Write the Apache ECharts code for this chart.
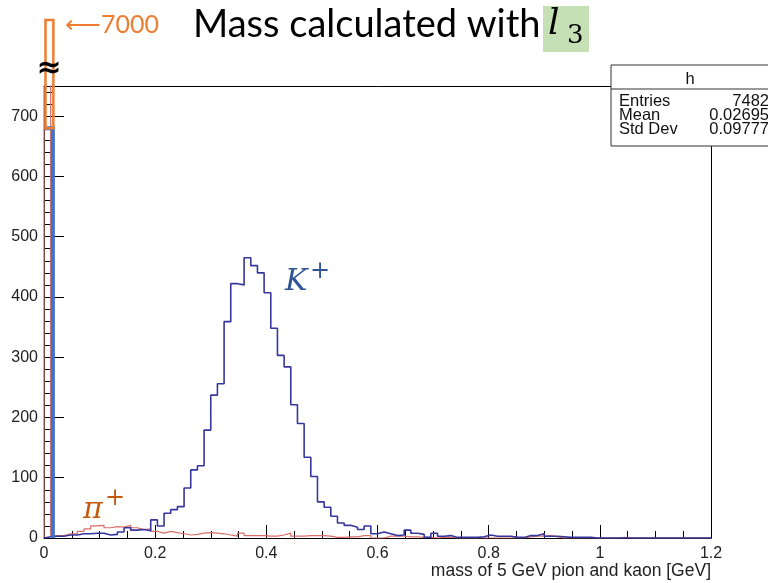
<!DOCTYPE html>
<html><head><meta charset="utf-8">
<script src="https://cdn.jsdelivr.net/npm/echarts@6/dist/echarts.min.js"></script>
<style>html,body{margin:0;padding:0;background:#fff}#c{width:768px;height:583px}</style>
</head><body><div id="c"></div>
<script>
// ---- data ----
const binWidth = 0.012;
const xMin = 0, xMax = 1.2, xInterval = 0.2;
const yMin = 0, yMax = 750, yInterval = 100;
const kaonCounts = [
  2, 3, 3, 5, 5, 7, 7, 8, 8, 5,
  6, 10, 17, 13, 14, 12, 30, 20, 41, 47,
  52, 83, 113, 120, 179, 237, 256, 359, 422, 420,
  465, 452, 440, 407, 348, 303, 284, 221, 190, 134,
  102, 60, 51, 36, 25, 21, 18, 14, 20, 7,
  10, 7, 4, 5, 13, 8, 6, 1, 8, 3,
  4, 1, 1, 1, 1, 2, 5, 3, 3, 3,
  1, 1, 4, 4, 7, 3, 3, 2, 1, 1,
  1, 1, 0, 0, 0, 0, 0, 0, 0, 0,
  0, 0, 0, 0, 0, 0, 0, 0, 0, 0
];
const pionCounts = [
  7000, 4, 4, 7, 7, 11, 15, 20, 21, 17,
  19, 18, 21, 17, 14, 15, 11, 8, 11, 9,
  7, 5, 6, 8, 9, 8, 7, 5, 3, 8,
  4, 4, 4, 3, 3, 5, 8, 3, 3, 4,
  4, 4, 3, 1, 1, 2, 2, 4, 4, 0,
  0, 3, 3, 3, 2, 2, 1, 1, 0, 1,
  1, 0, 0, 0, 0, 0, 0, 0, 0, 0,
  0, 0, 2, 3, 3, 4, 2, 0, 0, 0,
  0, 0, 0, 0, 0, 0, 1, 0, 0, 0,
  0, 0, 0, 0, 0, 0, 0, 0, 0, 0
];
const highlightBin = [[0, 680]]; // bin 0 drawn up to 680, then broken to 7000
const statsTitle = 'h';
const statsRows = [['Entries', '7482'], ['Mean', '0.02695'], ['Std Dev', '0.09777']];
const titleText = 'Mass calculated with';
const xName = 'mass of 5 GeV pion and kaon [GeV]';

function histPoints(counts) {
  const pts = [[0, 0]];
  counts.forEach((c, i) => pts.push([i * binWidth, c]));
  pts.push([counts.length * binWidth, counts[counts.length - 1]]);
  return pts;
}

const chart = echarts.init(document.getElementById('c'));
const FONT = 'Liberation Sans';
const statsGraphics = [];
const bx = 611, by = 65;
statsGraphics.push({type:'rect', z:100, shape:{x:bx, y:by, width:170, height:81}, style:{fill:'#fff', stroke:'#333', lineWidth:1}});
statsGraphics.push({type:'line', z:101, shape:{x1:bx, y1:89, x2:bx+170, y2:89}, style:{stroke:'#333', lineWidth:1}});
statsGraphics.push({type:'text', z:102, x:690, y:79, style:{text:statsTitle, font:'16.5px ' + FONT, fill:'#111', align:'center', verticalAlign:'middle'}});
statsRows.forEach((r, i) => {
  const yy = 101.5 + i * 13.8;
  statsGraphics.push({type:'text', z:102, x:619, y:yy, style:{text:r[0], font:'16.5px ' + FONT, fill:'#111', align:'left', verticalAlign:'middle'}});
  statsGraphics.push({type:'text', z:102, x:769, y:yy, style:{text:r[1], font:'16.5px ' + FONT, fill:'#111', align:'right', verticalAlign:'middle'}});
});

const option = {
  animation: false,
  backgroundColor: '#fff',
  grid: {left: 44, right: 57, top: 86, bottom: 45, containLabel: false},
  xAxis: [{
    type: 'value', min: xMin, max: xMax, interval: xInterval,
    axisLine: {show: true, lineStyle: {color: '#000', width: 1}},
    axisTick: {show: true, inside: true, length: 13, lineStyle: {color: '#000'}},
    minorTick: {show: true, splitNumber: 4, length: 7, lineStyle: {color: '#000'}},
    splitLine: {show: false},
    axisLabel: {color: '#222', fontFamily: FONT, fontSize: 16, margin: 8,
      formatter: v => String(+v.toFixed(2))}
  }, {
    type: 'value', position: 'top', min: xMin, max: xMax,
    axisLine: {show: true, onZero: false, lineStyle: {color: '#000', width: 1}},
    axisTick: {show: false}, axisLabel: {show: false}, splitLine: {show: false}
  }],
  yAxis: [{
    type: 'value', min: yMin, max: yMax, interval: yInterval,
    axisLine: {show: true, lineStyle: {color: '#000', width: 1}},
    axisTick: {show: true, inside: true, length: 20, lineStyle: {color: '#000'}},
    minorTick: {show: true, splitNumber: 5, length: 10, lineStyle: {color: '#000'}},
    splitLine: {show: false},
    axisLabel: {color: '#222', fontFamily: FONT, fontSize: 16, margin: 6,
      formatter: v => (v > 700 ? '' : String(v))}
  }, {
    type: 'value', position: 'right', min: yMin, max: yMax,
    axisLine: {show: true, onZero: false, lineStyle: {color: '#000', width: 1}},
    axisTick: {show: false}, axisLabel: {show: false}, splitLine: {show: false}
  }],
  series: [{
    type: 'line', name: 'pion', step: 'end', symbol: 'none', clip: true,
    data: histPoints(pionCounts),
    lineStyle: {color: '#d86f69', width: 1.2}, z: 3
  }, {
    type: 'line', name: 'kaon', step: 'end', symbol: 'none', clip: true,
    data: histPoints(kaonCounts),
    lineStyle: {color: '#36369c', width: 1.6}, z: 4
  }, {
    type: 'custom', name: 'bin0', clip: false, z: 10,
    data: highlightBin,
    renderItem: function (params, api) {
      const p0 = api.coord([0, 0]);
      const p1 = api.coord([binWidth, api.value(1)]);
      const top = api.coord([0, yMax])[1] - 66;
      const rx = p1[0] + 2.2;
      return {type: 'group', children: [
        {type: 'polyline', shape: {points: [[p0[0] + 1, p1[1]], [rx, p1[1]], [rx, p0[1]]]},
          style: {stroke: '#4472c4', lineWidth: 4, fill: null}},
        {type: 'rect', shape: {x: p0[0] + 1.5, y: top, width: rx - p0[0] - 1, height: p1[1] - top},
          style: {stroke: '#ed7d31', lineWidth: 2.5, fill: null}}
      ]};
    }
  }],
  graphic: [
    {type:'text', z:100, x:193, y:25, style:{text:titleText, font:'38px Lato', fill:'#000', align:'left', verticalAlign:'middle'}},
    {type:'rect', z:99, shape:{x:543, y:6, width:46, height:46}, style:{fill:'#c5e0b4'}},
    {type:'text', z:100, x:548, y:25, style:{text:'l', font:'italic 36px "DejaVu Serif"', fill:'#000', align:'left', verticalAlign:'middle'}},
    {type:'text', z:100, x:567, y:36, style:{text:'3', font:'26px "DejaVu Serif"', fill:'#000', align:'left', verticalAlign:'middle'}},
    {type:'text', z:100, x:65, y:25, style:{text:'\u27F57000', font:'25px Lato', fill:'#ed7d31', align:'left', verticalAlign:'middle'}},
    {type:'text', z:100, x:49, y:69, style:{text:'\u2248', font:'bold 30px "DejaVu Sans"', fill:'#000', align:'center', verticalAlign:'middle'}},
    {type:'text', z:100, x:285, y:282, style:{text:'K', font:'italic 30px "DejaVu Serif"', fill:'#2f5597', align:'left', verticalAlign:'middle'}},
    {type:'text', z:100, x:310, y:272, style:{text:'+', font:'24px "DejaVu Serif"', fill:'#2f5597', align:'left', verticalAlign:'middle'}},
    {type:'text', z:100, x:83, y:510, style:{text:'\u03C0', font:'italic 30px "DejaVu Serif"', fill:'#c55a11', align:'left', verticalAlign:'middle'}},
    {type:'text', z:100, x:105, y:499, style:{text:'+', font:'24px "DejaVu Serif"', fill:'#c55a11', align:'left', verticalAlign:'middle'}},
    {type:'text', z:100, x:711, y:571, style:{text:xName, font:'17.5px ' + FONT, fill:'#222', align:'right', verticalAlign:'middle'}}
  ].concat(statsGraphics)
};
chart.setOption(option);
</script></body></html>
